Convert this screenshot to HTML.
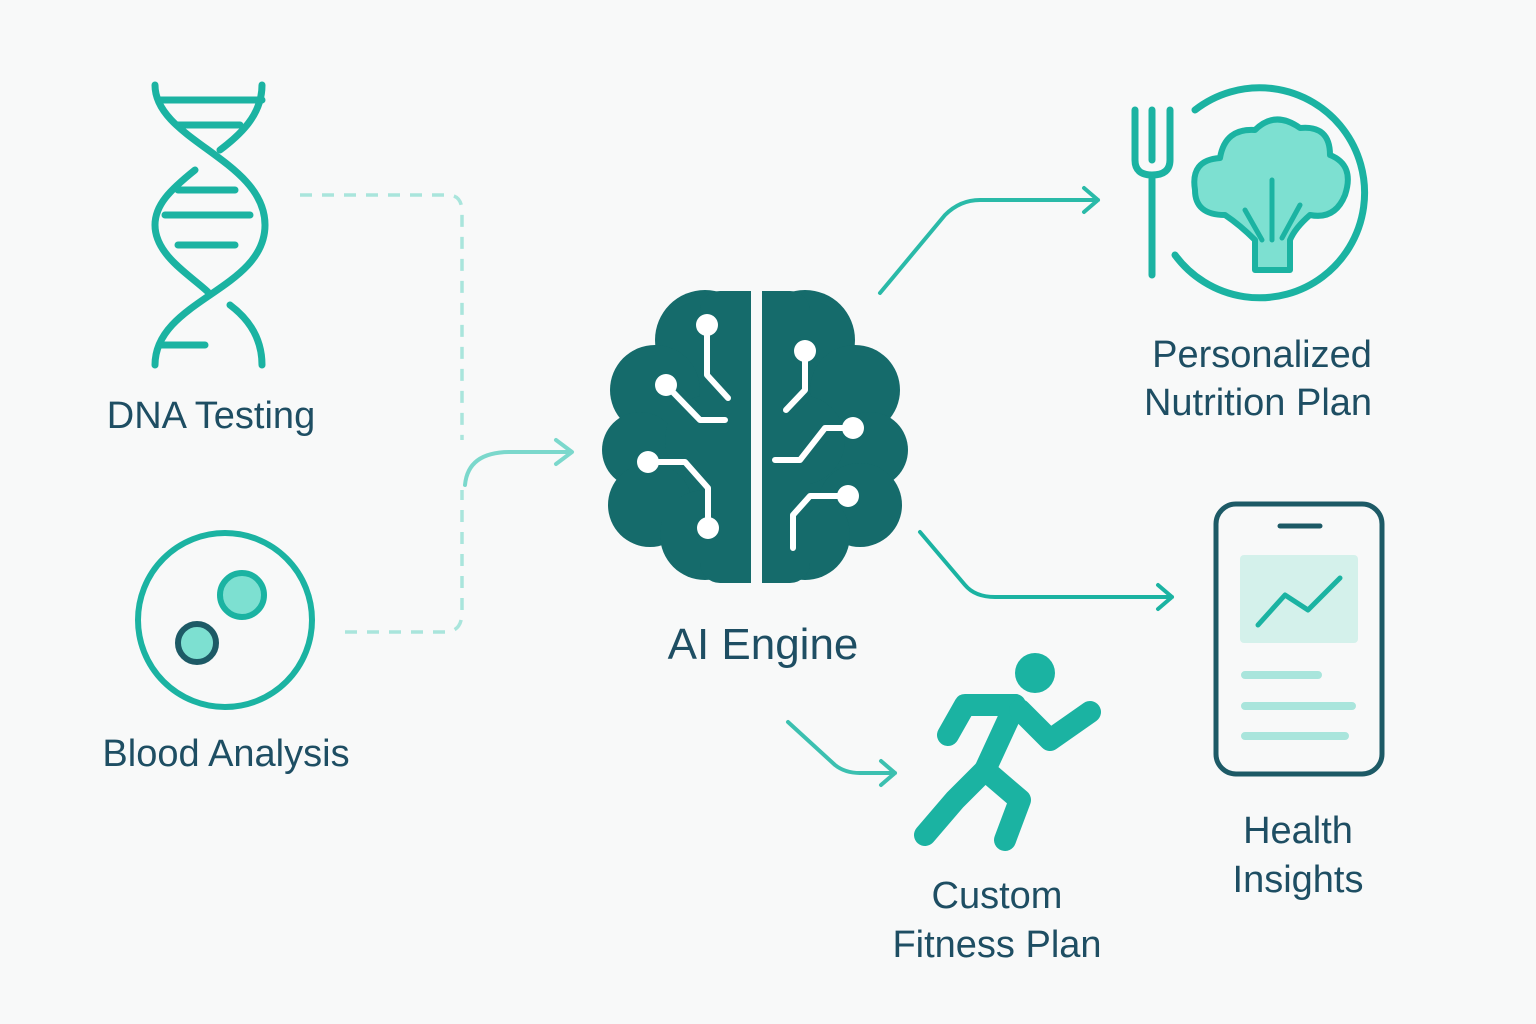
<!DOCTYPE html><html><head><style>body{margin:0;background:#f8f9f9}svg{display:block}text{font-family:"Liberation Sans",sans-serif;fill:#1e4e63;text-anchor:middle}</style></head><body>
<svg width="1536" height="1024" viewBox="0 0 1536 1024">
<rect width="1536" height="1024" fill="#f8f9f9"/>
<g fill="none" stroke="#1bb3a2" stroke-width="7" stroke-linecap="round">
<path d="M155 85 C155 140 265 160 265 225 C265 290 155 300 155 365"/>
<path d="M262 85 C262 115 240 135 220 150 M195 170 C170 190 155 205 155 225 C155 255 190 275 208 292 M230 305 C250 320 262 340 262 365"/>
<path d="M160 100 H262 M178 125 H240 M178 190 H235 M165 215 H250 M178 245 H235 M160 345 H205"/>
</g>
<circle cx="225" cy="620" r="87" fill="none" stroke="#1bb3a2" stroke-width="6"/>
<circle cx="242" cy="595" r="22" fill="#7de0d1" stroke="#1bb3a2" stroke-width="6"/>
<circle cx="197" cy="643" r="19" fill="#7de0d1" stroke="#1d5a66" stroke-width="6"/>
<g fill="none" stroke="#a9e5dc" stroke-width="3.5" stroke-dasharray="12 10">
<path d="M300 195 H448 Q462 195 462 212 V440"/>
<path d="M345 632 H445 Q462 632 462 612 V490"/>
</g>
<g fill="none" stroke-width="4" stroke-linecap="round" stroke-linejoin="round">
<path d="M465 485 Q468 452 510 452 H570 M556 440 L572 452 L556 464" stroke="#7bd8cc"/>
<path d="M880 293 L945 215 Q960 200 980 200 H1098 M1084 188 L1098 200 L1084 212" stroke="#2abaa8"/>
<path d="M920 532 L965 585 Q975 597 995 597 H1172 M1158 585 L1172 597 L1158 609" stroke="#1bb3a2"/>
<path d="M788 722 L835 765 Q845 773 860 773 H895 M881 761 L895 773 L881 785" stroke="#3cc0b0"/>
</g>
<g fill="#156b6b">
<ellipse cx="755" cy="440" rx="120" ry="125"/>
<circle cx="705" cy="340" r="50"/><circle cx="655" cy="390" r="45"/><circle cx="640" cy="450" r="38"/><circle cx="650" cy="505" r="42"/><circle cx="705" cy="535" r="45"/><circle cx="710" cy="440" r="45"/>
<circle cx="805" cy="340" r="50"/><circle cx="855" cy="390" r="45"/><circle cx="870" cy="450" r="38"/><circle cx="860" cy="505" r="42"/><circle cx="805" cy="535" r="45"/><circle cx="800" cy="440" r="45"/>
<rect x="700" y="291" width="110" height="292" rx="20"/>
</g>
<rect x="751" y="285" width="11" height="300" fill="#f8f9f9"/>
<g fill="none" stroke="#fff" stroke-width="6" stroke-linecap="round" stroke-linejoin="round">
<path d="M707 325 V375 L728 398 M666 385 L700 420 H725 M648 462 H685 L708 488 V528 M805 351 V390 L786 410 M853 428 H825 L800 460 H775 M848 496 H810 L793 515 V548"/>
</g>
<g fill="#fff"><circle cx="707" cy="325" r="11"/><circle cx="666" cy="385" r="11"/><circle cx="648" cy="462" r="11"/><circle cx="708" cy="528" r="11"/><circle cx="805" cy="351" r="11"/><circle cx="853" cy="428" r="11"/><circle cx="848" cy="496" r="11"/></g>
<g fill="none" stroke="#1bb3a2" stroke-width="7" stroke-linecap="round">
<path d="M1135 110 V160 Q1135 175 1152 175 Q1170 175 1170 160 V110 M1152 110 V160 M1152 175 V275"/>
<path d="M1195 110 A105 105 0 1 1 1175 255"/>
</g>
<path d="M1255 270 V240 Q1240 225 1225 215 Q1195 215 1195 190 Q1190 160 1220 158 Q1225 128 1255 130 Q1275 110 1300 128 Q1330 125 1330 155 Q1355 165 1345 195 Q1335 220 1310 215 Q1295 228 1290 240 V270 Z" fill="#7de0d1" stroke="#1bb3a2" stroke-width="6" stroke-linejoin="round"/>
<path d="M1262 240 L1245 210 M1272 240 V180 M1282 238 L1300 205" stroke="#1bb3a2" stroke-width="5" fill="none" stroke-linecap="round"/>
<rect x="1216" y="504" width="166" height="270" rx="20" fill="none" stroke="#1d5a66" stroke-width="5"/>
<path d="M1280 526 H1320" stroke="#1d5a66" stroke-width="5" stroke-linecap="round"/>
<rect x="1240" y="555" width="118" height="88" rx="4" fill="#d4f1eb"/>
<path d="M1258 625 L1285 595 L1308 610 L1340 578" fill="none" stroke="#1bb3a2" stroke-width="5" stroke-linecap="round" stroke-linejoin="round"/>
<g stroke="#a9e5dc" stroke-width="8" stroke-linecap="round"><path d="M1245 675 H1318 M1245 706 H1352 M1245 736 H1345"/></g>
<circle cx="1035" cy="673" r="20" fill="#1bb3a2"/>
<g fill="none" stroke="#1bb3a2" stroke-width="22" stroke-linecap="round" stroke-linejoin="round">
<path d="M1015 705 L985 770 L1020 800 L1005 840"/><path d="M985 770 L955 800 L925 835"/><path d="M1015 705 L965 705 L948 735"/><path d="M1020 710 L1050 740 L1090 712"/>
</g>
<g font-size="38"><text x="211" y="428">DNA Testing</text><text x="226" y="766">Blood Analysis</text>
<text x="1262" y="367">Personalized</text><text x="1258" y="415">Nutrition Plan</text>
<text x="1298" y="843">Health</text><text x="1298" y="892">Insights</text>
<text x="997" y="908">Custom</text><text x="997" y="957">Fitness Plan</text></g>
<text x="763" y="659" font-size="44">AI Engine</text>
</svg></body></html>
